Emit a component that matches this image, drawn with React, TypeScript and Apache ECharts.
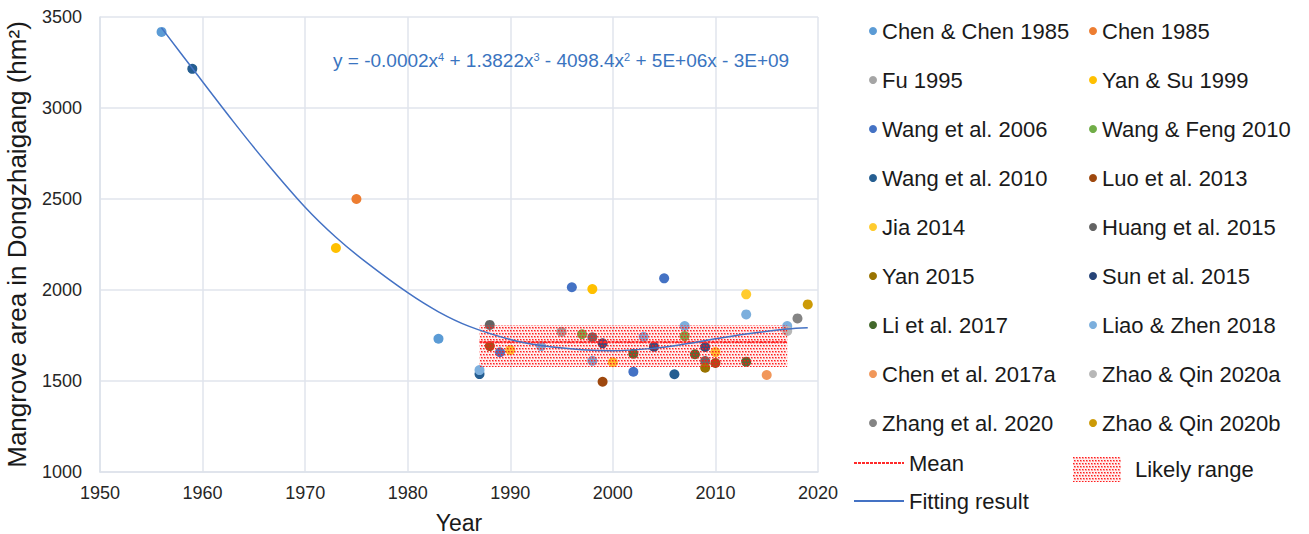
import React, { useEffect, useRef } from "react";
import * as echarts from "echarts";

const seriesNames = [
  "Chen & Chen 1985", "Chen 1985",
  "Fu 1995", "Yan & Su 1999",
  "Wang et al. 2006", "Wang & Feng 2010",
  "Wang et al. 2010", "Luo et al. 2013",
  "Jia 2014", "Huang et al. 2015",
  "Yan 2015", "Sun et al. 2015",
  "Li et al. 2017", "Liao & Zhen 2018",
  "Chen et al. 2017a", "Zhao & Qin 2020a",
  "Zhang et al. 2020", "Zhao & Qin 2020b",
];

const seriesColors = [
  "#5B9BD5", "#ED7D31",
  "#A5A5A5", "#FFC000",
  "#4472C4", "#70AD47",
  "#255E91", "#9E480E",
  "#FFCB2E", "#636363",
  "#997300", "#264478",
  "#43682B", "#7CAFDD",
  "#F1975A", "#B7B7B7",
  "#848484", "#CC9A06",
];

const chenChen1985 = [[1956, 3418], [1983, 1732]];
const chen1985 = [[1975, 2500]];
const fu1995 = [[1995, 1770]];
const yanSu1999 = [[1973, 2231], [1998, 2005]];
const wang2006 = [[1989, 1658], [1996, 2015], [2002, 1551], [2005, 2064]];
const wangFeng2010 = [[1997, 1757], [2007, 1747]];
const wang2010 = [[1959, 3215], [1987, 1538], [2006, 1537]];
const luo2013 = [[1988, 1692], [1999, 1496], [2010, 1599]];
const jia2014 = [[1990, 1670], [2000, 1603], [2010, 1659], [2013, 1976]];
const huang2015 = [[1988, 1808], [1998, 1740], [2009, 1610]];
const yan2015 = [[2009, 1573]];
const sun2015 = [[1999, 1707], [2004, 1688], [2009, 1687]];
const li2017 = [[2002, 1650], [2008, 1647], [2013, 1606]];
const liaoZhen2018 = [[1987, 1560], [1993, 1692], [1998, 1611], [2003, 1743], [2007, 1802], [2013, 1866], [2017, 1802]];
const chen2017a = [[2015, 1533]];
const zhaoQin2020a = [[2017, 1775]];
const zhang2020 = [[2018, 1844]];
const zhaoQin2020b = [[2019, 1921]];

const seriesPoints = [
  chenChen1985, chen1985, fu1995, yanSu1999, wang2006, wangFeng2010,
  wang2010, luo2013, jia2014, huang2015, yan2015, sun2015,
  li2017, liaoZhen2018, chen2017a, zhaoQin2020a, zhang2020, zhaoQin2020b,
];

// Fitted curve
const fitYears = [1956, 1959, 1963, 1966, 1970, 1973, 1976, 1980, 1983, 1986, 1990, 1993, 1997, 2000, 2004, 2007, 2010, 2013, 2017, 2019];
const fitValues = [3440, 3218, 2925, 2715, 2455, 2290, 2150, 1985, 1880, 1800, 1728, 1695, 1672, 1666, 1680, 1703, 1732, 1758, 1786, 1793];

const meanValue = 1714;
const rangeStart = 1987;
const rangeEnd = 2017;
const rangeLow = 1577;
const rangeHigh = 1808;

const equationText = "y = -0.0002x{s|4} + 1.3822x{s|3} - 4098.4x{s|2} + 5E+06x - 3E+09";

const FONT = "Arial, 'Liberation Sans', sans-serif";

function makePattern(): string {
  const c = document.createElement("canvas");
  c.width = 6;
  c.height = 6;
  const ctx = c.getContext("2d");
  if (ctx) {
    ctx.fillStyle = "rgba(255,120,120,0.12)";
    ctx.fillRect(0, 0, 6, 6);
    ctx.fillStyle = "rgba(255,20,20,0.95)";
    ctx.fillRect(0, 0, 1, 1);
    ctx.fillRect(3, 0, 1, 1);
    ctx.fillRect(1, 3, 1, 1);
    ctx.fillRect(4, 3, 1, 1);
    ctx.fillStyle = "rgba(255,20,20,0.5)";
    ctx.fillRect(1, 0, 1, 1);
    ctx.fillRect(4, 0, 1, 1);
    ctx.fillRect(2, 3, 1, 1);
    ctx.fillRect(5, 3, 1, 1);
    ctx.fillStyle = "rgba(255,20,20,0.35)";
    ctx.fillRect(0, 1, 2, 1);
    ctx.fillRect(3, 1, 2, 1);
    ctx.fillRect(1, 4, 2, 1);
    ctx.fillRect(4, 4, 2, 1);
  }
  return c.toDataURL();
}

export default function App() {
  const ref = useRef<HTMLDivElement>(null);

  useEffect(() => {
    if (!ref.current) return;
    const chart = echarts.init(ref.current, undefined, { renderer: "svg" });
    const patternUrl = makePattern();
    const pattern: any = { image: patternUrl, repeat: "repeat", imageWidth: 6, imageHeight: 6 };

    const scatterSeries = seriesNames.map((name, i) => ({
      name,
      type: "scatter",
      data: seriesPoints[i],
      symbol: "circle",
      symbolSize: 10,
      itemStyle: { color: seriesColors[i], opacity: 1 },
      z: 3,
    }));

    const leftNames = seriesNames.filter((_, i) => i % 2 === 0);
    const rightNames = seriesNames.filter((_, i) => i % 2 === 1);
    const legendText = { fontSize: 22, color: "#1a1a1a", fontFamily: FONT };

    const option: any = {
      animation: false,
      backgroundColor: "#fff",
      textStyle: { fontFamily: FONT },
      grid: { left: 100, right: 491, top: 17, bottom: 62, containLabel: false, outerBoundsMode: "none" },
      xAxis: {
        type: "value",
        min: 1950,
        max: 2020,
        interval: 10,
        name: "Year",
        nameLocation: "middle",
        nameGap: 39,
        nameTextStyle: { fontSize: 23, color: "#1a1a1a", fontFamily: FONT },
        axisLine: { show: true, lineStyle: { color: "#DDE2EA", width: 1.5 } },
        axisTick: { show: false },
        axisLabel: { fontSize: 18, color: "#262626", margin: 12, fontFamily: FONT, formatter: (v: number) => String(v) },
        splitLine: { show: true, lineStyle: { color: "#E1E5EC", width: 1.5 } },
      },
      yAxis: {
        type: "value",
        min: 1000,
        max: 3500,
        interval: 500,
        name: "Mangrove area in Dongzhaigang (hm²)",
        nameLocation: "middle",
        nameGap: 70,
        nameTextStyle: { fontSize: 26, color: "#1a1a1a", fontFamily: FONT },
        axisLine: { show: true, lineStyle: { color: "#DDE2EA", width: 1.5 } },
        axisTick: { show: false },
        axisLabel: { fontSize: 18, color: "#262626", margin: 18, fontFamily: FONT, formatter: (v: number) => String(v) },
        splitLine: { show: true, lineStyle: { color: "#E1E5EC", width: 1.5 } },
      },
      legend: [
        {
          data: leftNames,
          orient: "vertical",
          left: 869,
          top: 20,
          padding: 0,
          itemGap: 27,
          itemWidth: 8,
          itemHeight: 8,
          icon: "circle",
          textStyle: legendText,
          selectedMode: false,
        },
        {
          data: rightNames,
          orient: "vertical",
          left: 1089,
          top: 20,
          padding: 0,
          itemGap: 27,
          itemWidth: 8,
          itemHeight: 8,
          icon: "circle",
          textStyle: legendText,
          selectedMode: false,
        },
        {
          data: [
            { name: "Mean", itemStyle: { opacity: 0 } },
            { name: "Fitting result", itemStyle: { opacity: 0 } },
          ],
          orient: "vertical",
          left: 853,
          top: 452,
          padding: 0,
          itemGap: 16,
          itemWidth: 50,
          itemHeight: 14,
          textStyle: legendText,
          selectedMode: false,
        },
        {
          data: [{ name: "Likely range", icon: "rect", itemStyle: { color: pattern } }],
          orient: "vertical",
          left: 1073,
          top: 457,
          padding: 0,
          itemWidth: 48,
          itemHeight: 25,
          textStyle: { ...legendText, padding: [0, 0, 9, 9] },
          selectedMode: false,
        },
      ],
      graphic: [
        {
          type: "text",
          left: 333,
          top: 51,
          style: {
            text: equationText,
            fill: "#3A74C0",
            font: `19px ${FONT}`,
            rich: {
              s: { fontSize: 11, verticalAlign: "top", fill: "#3A74C0", fontFamily: FONT, lineHeight: 13 },
            },
          },
          z: 10,
        },
      ],
      series: [
        ...scatterSeries,
        {
          name: "Likely range",
          type: "line",
          data: [],
          itemStyle: { color: pattern },
          markArea: {
            silent: true,
            z: 5,
            itemStyle: { color: pattern, borderWidth: 0 },
            data: [[{ xAxis: rangeStart, yAxis: rangeLow }, { xAxis: rangeEnd, yAxis: rangeHigh }]],
          },
          z: 5,
        },
        {
          name: "Mean",
          type: "line",
          data: [[rangeStart, meanValue], [rangeEnd, meanValue]],
          symbol: "none",
          lineStyle: { color: "#FF2A2A", width: 2, type: [3, 1] },
          itemStyle: { color: "#FF2A2A" },
          z: 6,
        },
        {
          name: "Fitting result",
          type: "line",
          data: fitYears.map((y, i) => [y, fitValues[i]]),
          smooth: 0.35,
          symbol: "none",
          lineStyle: { color: "#4472C4", width: 1.5 },
          itemStyle: { color: "#4472C4" },
          z: 7,
        },
      ],
    };
    chart.setOption(option);
    return () => chart.dispose();
  }, []);

  return <div ref={ref} style={{ width: 1309, height: 534, position: "absolute", left: 0, top: 0 }} />;
}
